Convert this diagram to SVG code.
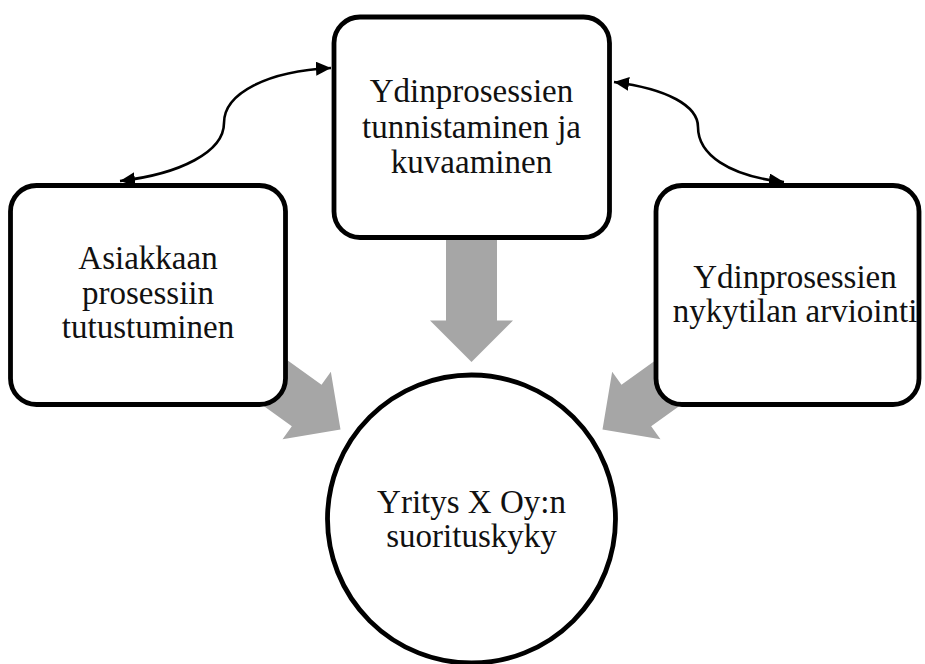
<svg xmlns="http://www.w3.org/2000/svg" xmlns:xlink="http://www.w3.org/1999/xlink" width="925" height="664" viewBox="0 0 925 664">
  <style>
    .box { fill: #ffffff; stroke: #000000; stroke-width: 4.8; }
    .label { font-family: "Liberation Serif", "Times New Roman", serif; font-size: 33px; fill: #111111; text-anchor: middle; }
    .flow { fill: #a6a6a6; }
    .link { fill: none; stroke: #000000; stroke-width: 2.6; }
  </style>
  <defs>
    <!-- block arrow pointing along +x, tip at x=131.6 -->
    <path id="block-arrow" d="M0,-25.5 H90 V-41.5 L131.6,0 L90,41.5 V25.5 H0 Z"/>
    <marker id="head" markerUnits="userSpaceOnUse" markerWidth="16" markerHeight="14" refX="15" refY="7" orient="auto-start-reverse" viewBox="0 0 16 14">
      <path d="M0,0 L15,7 L0,14 Z" fill="#000000"/>
    </marker>
  </defs>

  <!-- block arrows towards the performance circle (drawn beneath the boxes) -->
  <g id="flows">
    <use xlink:href="#block-arrow" class="flow" transform="translate(471.5,230.4) rotate(90)"/>
    <use xlink:href="#block-arrow" class="flow" transform="translate(233.5,353) rotate(35.6)"/>
    <use xlink:href="#block-arrow" class="flow" transform="translate(709.5,353) rotate(144.4)"/>
  </g>

  <!-- curved two-way connectors -->
  <g id="connectors">
    <path class="link" marker-start="url(#head)" marker-end="url(#head)" d="M120,181 C180,174 224,152 224,123 C224,93 268,71 331,68"/>
    <path class="link" marker-start="url(#head)" marker-end="url(#head)" d="M614,82 C668,89 698,106 698,127 C698,154 728,176 784,182"/>
  </g>

  <g id="node-core">
    <rect class="box" x="334" y="17" width="275.5" height="220.5" rx="26"/>
    <text class="label" x="471.5" y="102">Ydinprosessien</text>
    <text class="label" x="471.5" y="137.5">tunnistaminen ja</text>
    <text class="label" x="471.5" y="173">kuvaaminen</text>
  </g>

  <g id="node-customer">
    <rect class="box" x="10.5" y="185.5" width="275" height="219" rx="26"/>
    <text class="label" x="148" y="269">Asiakkaan</text>
    <text class="label" x="148" y="303.5">prosessiin</text>
    <text class="label" x="148" y="338">tutustuminen</text>
  </g>

  <g id="node-assessment">
    <rect class="box" x="656" y="185.5" width="263" height="219" rx="26"/>
    <text class="label" x="795" y="288">Ydinprosessien</text>
    <text class="label" x="795" y="322">nykytilan arviointi</text>
  </g>

  <g id="node-performance">
    <circle class="box" cx="471.5" cy="519" r="144"/>
    <text class="label" x="471.5" y="513">Yritys X Oy:n</text>
    <text class="label" x="471.5" y="547">suorituskyky</text>
  </g>
</svg>
